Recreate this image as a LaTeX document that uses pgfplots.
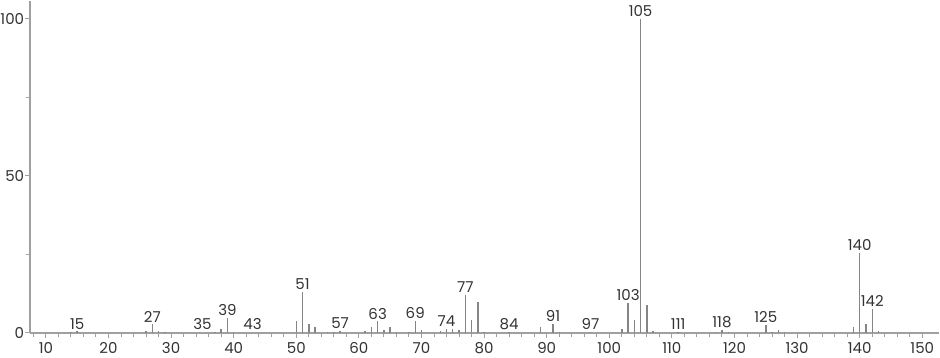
\documentclass[border=0pt]{standalone}
\usepackage{pgfplots}
\pgfplotsset{compat=1.18}
\usepackage{fontspec}
\setmainfont{Poppins}
\definecolor{axisgray}{HTML}{A0A0A0}
\definecolor{peakgray}{HTML}{858585}
\definecolor{txt}{HTML}{333333}
\begin{document}
\begin{tikzpicture}
\begin{axis}[
  scale only axis,
  width=909pt, height=332pt,
  xmin=7.44, xmax=152.7,
  ymin=0, ymax=105.7,
  axis x line*=bottom, axis y line*=left,
  axis line style={axisgray, line width=1.6pt},
  xtick distance=10, minor x tick num=4,
  ytick={0,50,100}, minor ytick={25,75},
  tick style={axisgray, line width=1pt},
  tick align=outside,
  major tick length=5pt, minor tick length=4pt,
  every tick label/.append style={font=\fontsize{15}{18}\selectfont, text=txt},
  /pgf/number format/assume math mode=true,
  xticklabel style={yshift=-1pt},
  yticklabel style={inner sep=0.5pt, xshift=0pt},
  clip=false,
]
\addplot[ycomb, peakgray, line width=1.4pt, mark=none] coordinates {
(14,0.3) (15,0.5) (26,0.6) (27,2.7) (28,0.5) (29,0.3) (37,0.4) (38,1.3) (39,4.7) (40,0.3)
(50,3.7) (51,13.0) (52,2.9) (53,1.8) (55,0.3) (56,0.4) (57,0.6) (61,0.6) (62,1.8) (63,3.7)
(64,0.8) (65,1.8) (66,0.3) (68,0.4) (69,3.9) (70,1.0) (73,0.5) (74,1.3) (75,1.3) (76,1.0)
(77,12.1) (78,4.1) (79,10.0) (80,0.4) (84,0.4) (89,1.8) (91,2.9) (92,0.4) (97,0.4)
(102,1.3) (103,9.6) (104,4.1) (105,100) (106,8.9) (107,0.6) (111,0.4) (117,0.4) (118,0.8)
(119,0.4) (125,2.5) (126,0.4) (127,1.0) (128,0.3) (139,1.8) (140,25.5) (141,2.9) (142,7.6) (143,0.6)
};
\begin{scope}[every node/.style={anchor=south, inner sep=1pt, yshift=1pt, font=\fontsize{15}{18}\selectfont, text=txt}]
\node at (axis cs:15,0.5) {15};
\node at (axis cs:27,2.7) {27};
\node at (axis cs:35,0.4) {35};
\node at (axis cs:39,4.7) {39};
\node at (axis cs:43,0.4) {43};
\node at (axis cs:51,13.0) {51};
\node at (axis cs:57,0.6) {57};
\node at (axis cs:63,3.7) {63};
\node at (axis cs:69,3.9) {69};
\node at (axis cs:74,1.3) {74};
\node at (axis cs:77,12.1) {77};
\node at (axis cs:84,0.4) {84};
\node at (axis cs:91,2.9) {91};
\node at (axis cs:97,0.4) {97};
\node at (axis cs:103,9.6) {103};
\node at (axis cs:105,100) {105};
\node at (axis cs:111,0.4) {111};
\node at (axis cs:118,0.8) {118};
\node at (axis cs:125,2.5) {125};
\node at (axis cs:140,25.5) {140};
\node at (axis cs:142,7.6) {142};
\end{scope}
\end{axis}
\end{tikzpicture}
\end{document}
